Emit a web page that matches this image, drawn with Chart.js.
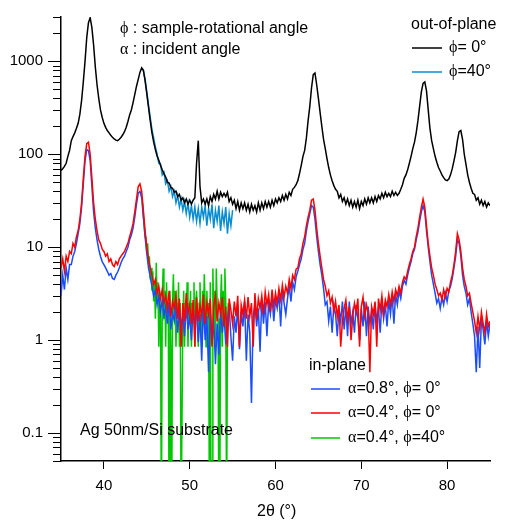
<!DOCTYPE html>
<html>
<head>
<meta charset="utf-8">
<script src="https://cdn.jsdelivr.net/npm/chart.js@4.4.1/dist/chart.umd.min.js"></script>
<style>
  html, body { margin: 0; padding: 0; background: #fff; }
  #wrap { width: 509px; height: 530px; position: relative; }
</style>
</head>
<body>
<div id="wrap"><canvas id="xrdChart"></canvas></div>
<script>
// 2theta grid: out-of-plane / in-plane scans, 0.2 deg step from 35 to 85
const scanStart = 35, scanStep = 0.2;

// out-of-plane, phi = 0 (black)
const blackOop = [67,
  70, 74, 80, 95, 110,
  140, 155, 170, 190, 215,
  270, 380, 600, 1000, 1800,
  2600, 2950, 2300, 1500, 870,
  560, 400, 300, 250, 215,
  195, 180, 170, 160, 152,
  146, 142, 140, 145, 152,
  162, 175, 195, 225, 265,
  300, 360, 440, 540, 640,
  760, 850, 800, 620, 450,
  320, 230, 170, 135, 112,
  96, 86, 76, 68, 62,
  57, 50, 49, 44, 43,
  39, 40, 35, 37, 32,
  34, 30, 33, 29, 32,
  29, 32, 34, 80, 140,
  45, 30, 33, 29, 33,
  28, 35, 31, 37, 33,
  40, 33, 39, 35, 38,
  35, 39, 31, 34, 29,
  32, 26, 31, 25, 30,
  26, 30, 25, 29, 24,
  29, 25, 28, 24, 30,
  25, 30, 26, 31, 27,
  31, 27, 32, 28, 33,
  30, 34, 31, 36, 32,
  37, 33, 39, 36, 42,
  44, 47, 52, 62, 76,
  95, 110, 150, 230, 330,
  520, 720, 750, 560, 400,
  280, 200, 145, 115, 90,
  72, 60, 52, 46, 42,
  40, 34, 37, 31, 34,
  29, 33, 28, 32, 27,
  31, 27, 32, 26, 31,
  28, 33, 29, 34, 30,
  34, 30, 35, 31, 36,
  33, 38, 34, 39, 35,
  38, 35, 40, 36, 39,
  36, 38, 42, 47, 55,
  60, 68, 80, 95, 115,
  135, 170, 230, 330, 470,
  580, 600, 480, 300, 190,
  140, 115, 95, 82, 72,
  66, 60, 56, 53, 52,
  54, 60, 70, 85, 105,
  140, 175, 180, 145, 100,
  78, 60, 50, 43, 38,
  37, 32, 34, 29, 32,
  28, 31, 27, 30, 28];

// out-of-plane, phi = 40 (teal), 44.4 to 55.0
const tealStart = 44.4;
const tealOop = [850, 800, 640, 470,
  340, 250, 185, 150, 120,
  100, 80, 78, 60, 64,
  48, 52, 40, 45, 35,
  40, 30, 36, 27, 33,
  25, 31, 23, 30, 21,
  28, 20, 27, 19, 26,
  18, 27, 21, 28, 17,
  26, 20, 29, 16, 25,
  19, 28, 15, 24, 18,
  27, 14, 23, 17, 25];

// in-plane, alpha = 0.8, phi = 0 (blue)
const blueIp = [3,
  5, 3.5, 6, 4.5, 6.5,
  6.5, 8, 9, 11, 14,
  18, 27, 48, 85, 112,
  110, 85, 45, 24, 16,
  12, 9.5, 8, 7, 6.5,
  6, 5.5, 5, 5.2, 4.6,
  4.5, 5, 5.4, 6, 6.8,
  7.5, 8, 9, 10, 12,
  13.5, 16, 21, 29, 38,
  40, 34, 21, 13, 8.5,
  6, 4.8, 3.8, 3, 3.4,
  2.4, 3, 2, 2.7, 1.8,
  2.3, 1.5, 2.6, 1.3, 2,
  1.6, 2.4, 1.2, 2.1, 1.4,
  1.9, 1.1, 2.5, 1.3, 1.8,
  1.0, 2.2, 1.4, 2.3, 0.95,
  1.9, 0.6, 2.4, 1.0, 1.8,
  0.45, 2, 0.9, 1.7, 0.55,
  1.5, 0.7, 2.2, 1.2, 1.9,
  0.9, 1.6, 2.3, 1.1, 0.6,
  1.8, 1.2, 2.4, 0.8, 2,
  1.4, 2.6, 0.6, 1.9, 1.2,
  0.21, 1.8, 2.5, 1.4, 2.2,
  0.75, 2.8, 1.5, 2.6, 1.1,
  2.5, 1.9, 2.9, 1.6, 2.7,
  2.2, 3.2, 1.4, 3.4, 2.5,
  1.9, 2.8, 3.8, 2.6, 4.2,
  3.5, 4.8, 5.5, 6.5, 7.5,
  9.5, 11, 15, 19, 23,
  28, 27, 20, 13, 9,
  6.5, 5, 3.6, 2.4, 2.6,
  1.6, 2.3, 1.2, 2.4, 1.9,
  1.1, 2.2, 1.6, 2.6, 1.3,
  2.3, 1.1, 2.6, 1.5, 2.0,
  1.2, 2.4, 1.7, 1.0, 2.2,
  1.4, 2.6, 1.1, 2.3, 1.5,
  2.1, 1.3, 2.5, 1.6, 2.2,
  1.2, 2.6, 1.7, 2.4, 1.4,
  2.7, 1.9, 3, 1.5, 3.1,
  2.4, 3.4, 2.8, 3.8, 4.4,
  4, 5, 6, 7, 8.5,
  9.5, 12, 14.5, 19, 24,
  28, 24, 15, 10, 7,
  5, 4, 3.2, 2.5, 2.8,
  2.2, 2.9, 2.4, 3.2, 2.6,
  3.4, 3.8, 4.6, 6, 8,
  12, 11, 8, 5, 3.8,
  3.2, 2.4, 2.8, 2, 1.5,
  1.1, 0.45, 1.4, 0.5, 1.7,
  1.3, 0.9, 1.6, 1.1, 1.5];

// in-plane, alpha = 0.4, phi = 0 (red)
const redIp = [6,
  7.5, 5.5, 8, 7, 9,
  8.5, 11, 10, 13, 15,
  20, 30, 55, 95, 130,
  135, 100, 55, 30, 20,
  15, 12, 11, 9.5, 9,
  8, 8.5, 7, 7.5, 6.5,
  6.2, 7, 6.5, 7.5, 8,
  8.5, 9, 10, 11, 13,
  15, 18, 24, 33, 45,
  48, 40, 25, 15, 10,
  7.5, 6, 5, 4, 4.5,
  3.2, 3.8, 2.8, 3.5, 2.5,
  3, 2.2, 3.4, 1.8, 2.6,
  2.2, 3, 1.7, 2.8, 0.85,
  2.5, 1.6, 3.2, 1.9, 2.4,
  1.5, 2.7, 0.85, 2.9, 1.6,
  2.4, 1.8, 3.1, 1.5, 2.5,
  1.9, 2.8, 0.85, 2.3, 3,
  1.6, 2.5, 1.9, 2.9, 1.4,
  2.3, 0.85, 2.8, 2.1, 1.5,
  2.6, 1.8, 3, 0.85, 2.4,
  1.9, 2.7, 1.7, 2.9, 1.8,
  2.5, 0.85, 3.2, 1.7, 2.8,
  2.2, 3, 1.9, 3.3, 2.4,
  3.1, 2, 3.5, 2.3, 3.2,
  2.5, 3.6, 2.7, 3.9, 2.9,
  3.8, 3.2, 4.5, 3.6, 5,
  4.5, 5.8, 6, 7.5, 8.5,
  11, 13, 17, 21, 25,
  32, 33, 25, 16, 11,
  8, 6, 4.5, 3.8, 3,
  3.4, 2.5, 2.9, 2, 2.6,
  1.8, 2.4, 0.85, 1.6, 2.2,
  2.7, 1.7, 2.3, 1.0, 1.8,
  2.5, 2, 2.8, 0.85, 2.3,
  2.9, 1.8, 2.4, 2, 0.45,
  2.3, 1.9, 2.6, 0.85, 2.8,
  2.1, 3, 1.9, 2.7, 2.3,
  3.1, 2.4, 3.3, 2.6, 3.5,
  3, 3.8, 3.2, 4.2, 4.8,
  4.5, 5.5, 6.5, 7.5, 9,
  10, 13, 16, 21, 27,
  33, 27, 17, 11, 8,
  6, 5, 4, 3.5, 3,
  3.2, 2.7, 3.5, 2.9, 3.6,
  3.3, 4.2, 5, 6.5, 9,
  14, 12, 9, 6, 4.5,
  3.8, 3, 3.2, 2.5, 2,
  1.6, 1.2, 1.8, 1.3, 2,
  1.5, 1.2, 1.9, 1.4, 1.6];

// in-plane, alpha = 0.4, phi = 40 (green), 0.1 deg step from 44.5 to 54.5 (0.01 = zero counts)
const greenStart = 44.5, greenStep = 0.1;
const greenIp = [
  30, 22, 17, 13, 12, 9, 11, 6.5, 8, 4.5,
  6, 3.4, 5.5, 2.6, 4.2, 1.7, 6.8, 2.5, 4.2, 0.85,
  3.4, 1.7, 0.01, 2.5, 5.9, 1.7, 3.4, 0.85, 4.2, 1.7,
  2.5, 0.01, 3.4, 0.85, 0.01, 2.5, 5.1, 1.7, 3.4, 0.85,
  2.5, 1.7, 4.2, 0.85, 2.5, 0.01, 0.01, 1.7, 3.4, 0.85,
  2.5, 1.7, 4.2, 0.85, 2.5, 1.7, 3.4, 0.85, 2.5, 1.7,
  4.2, 0.85, 2.5, 3.4, 1.7, 0.85, 2.5, 4.2, 1.7, 0.85,
  3.4, 1.7, 5.1, 2.5, 0.85, 3.4, 1.7, 2.5, 0.01, 4.2,
  0.01, 0.01, 5.9, 1.7, 3.4, 0.85, 5.9, 2.5, 1.7, 0.01,
  0.01, 2.5, 5.1, 0.85, 3.4, 1.7, 5.9, 2.5, 0.01, 1.7,
  2.5];

const xTicks = [40, 50, 60, 70, 80];
const yTicks = [0.1, 1, 10, 100, 1000];

const SANS = "'Liberation Sans', Arial, sans-serif";
const SERIF = "'Liberation Serif', 'DejaVu Serif', serif";
const COLORS = { black: '#000000', teal: '#0a8cd0', blue: '#1a4dff', red: '#ff0000', green: '#00c800' };

const toPoints = (start, step, vals) => vals.map((v, i) => ({ x: +(start + i * step).toFixed(2), y: v }));

// draws a string made of several font runs (greek symbols in serif)
function drawRuns(ctx, x, y, runs, size) {
  ctx.textBaseline = 'middle';
  ctx.textAlign = 'left';
  ctx.fillStyle = '#000';
  runs.forEach(([txt, fam]) => {
    ctx.font = size + 'px ' + fam;
    ctx.fillText(txt, x, y);
    x += ctx.measureText(txt).width;
  });
}

const outLegend = [
  { color: COLORS.black, y: 48, runs: [['ϕ', SERIF], ['= 0°', SANS]] },
  { color: COLORS.teal, y: 72, runs: [['ϕ', SERIF], ['=40°', SANS]] }
];
const inLegend = [
  { color: COLORS.blue, y: 389, runs: [['α', SERIF], ['=0.8°, ', SANS], ['ϕ', SERIF], ['= 0°', SANS]] },
  { color: COLORS.red, y: 413, runs: [['α', SERIF], ['=0.4°, ', SANS], ['ϕ', SERIF], ['= 0°', SANS]] },
  { color: COLORS.green, y: 438, runs: [['α', SERIF], ['=0.4°, ', SANS], ['ϕ', SERIF], ['=40°', SANS]] }
];

const annotations = {
  id: 'annotations',
  afterDraw(chart) {
    const ctx = chart.ctx;
    const yScale = chart.scales.y;
    const left = chart.chartArea.left;
    ctx.save();
    // minor ticks of the log axis
    ctx.strokeStyle = '#000';
    ctx.lineWidth = 1;
    for (let d = 0.01; d < 5000; d *= 10) {
      for (let k = 2; k <= 9; k++) {
        const v = k * d;
        if (v < yScale.min || v > yScale.max) continue;
        const py = Math.round(yScale.getPixelForValue(v)) + 0.5;
        ctx.beginPath();
        ctx.moveTo(left - 8, py);
        ctx.lineTo(left, py);
        ctx.stroke();
      }
    }
    drawRuns(ctx, 120, 29, [['ϕ', SERIF], [' : sample-rotational angle', SANS]], 16);
    drawRuns(ctx, 120, 50, [['α', SERIF], [' : incident angle', SANS]], 16);
    drawRuns(ctx, 80, 431, [['Ag 50nm/Si substrate', SANS]], 16);
    drawRuns(ctx, 411, 25, [['out-of-plane', SANS]], 16);
    drawRuns(ctx, 309, 366, [['in-plane', SANS]], 16);
    const legendLine = (x0, x1, e) => {
      ctx.strokeStyle = e.color;
      ctx.lineWidth = 1.5;
      ctx.beginPath();
      ctx.moveTo(x0, e.y);
      ctx.lineTo(x1, e.y);
      ctx.stroke();
    };
    outLegend.forEach(e => { legendLine(412, 442, e); drawRuns(ctx, 449, e.y, e.runs, 16); });
    inLegend.forEach(e => { legendLine(311, 340, e); drawRuns(ctx, 348, e.y, e.runs, 16); });
    // x axis title
    drawRuns(ctx, 257, 512, [['2θ (°)', SANS]], 16);
    ctx.restore();
  }
};

const lineSet = (label, data, color, order) => ({
  label, data, order,
  borderColor: color,
  borderWidth: 1.5,
  pointRadius: 0,
  tension: 0,
  fill: false
});

new Chart(document.getElementById('xrdChart'), {
  type: 'line',
  data: {
    datasets: [
      lineSet('in-plane α=0.4°, ϕ=0°', toPoints(scanStart, scanStep, redIp), COLORS.red, 0),
      lineSet('in-plane α=0.8°, ϕ=0°', toPoints(scanStart, scanStep, blueIp), COLORS.blue, 1),
      lineSet('in-plane α=0.4°, ϕ=40°', toPoints(greenStart, greenStep, greenIp), COLORS.green, 2),
      lineSet('out-of-plane ϕ=0°', toPoints(scanStart, scanStep, blackOop), COLORS.black, 3),
      lineSet('out-of-plane ϕ=40°', toPoints(tealStart, scanStep, tealOop), COLORS.teal, 4)
    ]
  },
  options: {
    responsive: true,
    maintainAspectRatio: false,
    animation: false,
    events: [],
    layout: { padding: { top: 17, right: 19, left: 0, bottom: 0 } },
    plugins: { legend: { display: false }, tooltip: { enabled: false } },
    scales: {
      x: {
        type: 'linear',
        min: 35,
        max: 85,
        afterBuildTicks: s => { s.ticks = xTicks.map(v => ({ value: v })); },
        afterFit: s => { s.height = 69; },
        grid: { drawOnChartArea: false, drawTicks: true, tickLength: 8, color: '#000', tickWidth: 1 },
        border: { display: true, color: '#000', width: 1.5 },
        ticks: { color: '#000', font: { family: SANS, size: 15 }, padding: 8, maxRotation: 0 }
      },
      y: {
        type: 'logarithmic',
        min: 0.05,
        max: 3000,
        afterBuildTicks: s => { s.ticks = yTicks.map(v => ({ value: v })); },
        afterFit: s => { s.width = 61; },
        grid: { drawOnChartArea: false, drawTicks: true, tickLength: 13, color: '#000', tickWidth: 1 },
        border: { display: true, color: '#000', width: 1.5 },
        ticks: { color: '#000', font: { family: SANS, size: 15 }, padding: 5, callback: v => String(v) }
      }
    }
  },
  plugins: [annotations]
});
</script>
</body>
</html>
